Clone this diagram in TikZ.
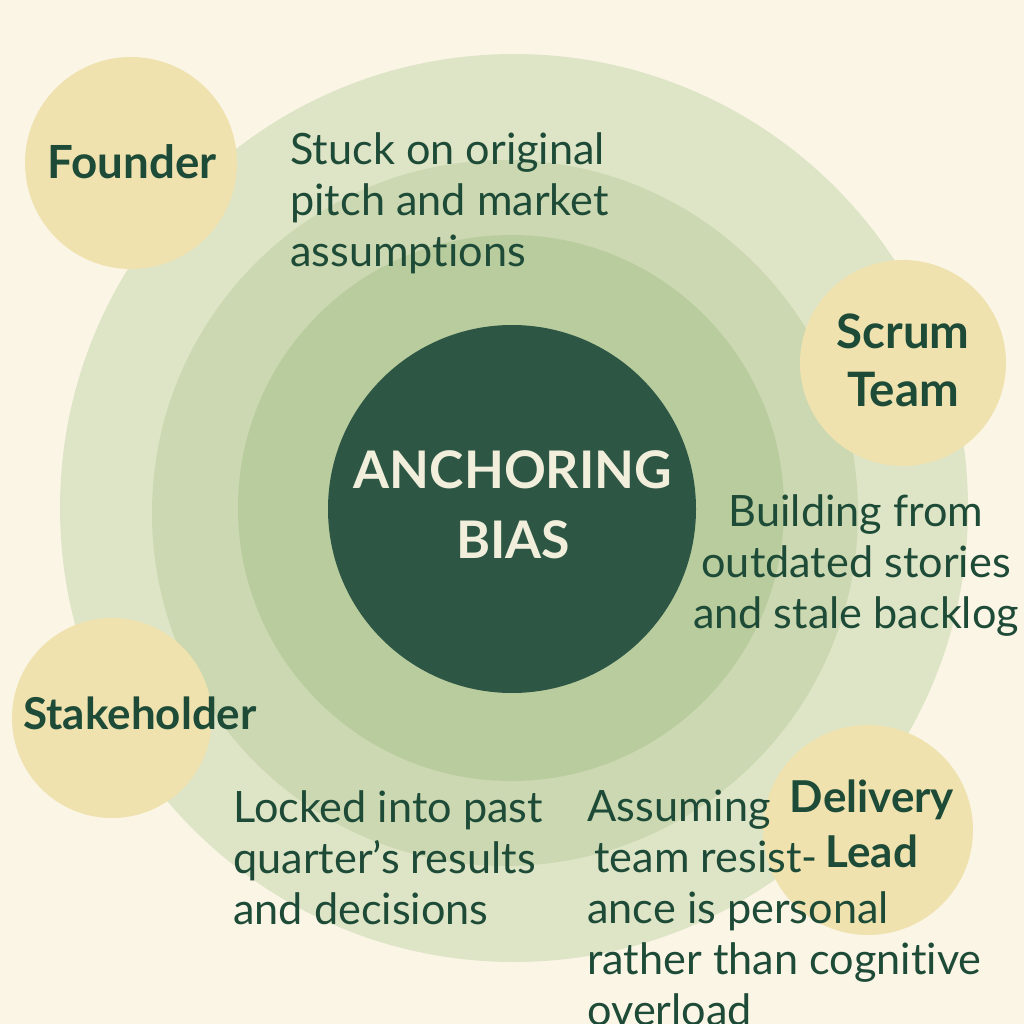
\documentclass[tikz,border=0pt]{standalone}
\usepackage{fontspec}
\setmainfont{Lato}[Ligatures=NoCommon]

\definecolor{bgcream}{HTML}{FBF5E6}
\definecolor{actorfill}{HTML}{EFE2AF}
\definecolor{ringa}{HTML}{DEE5C6}
\definecolor{ringb}{HTML}{CBD8B1}
\definecolor{ringc}{HTML}{B9CC9E}
\definecolor{corefill}{HTML}{2D5744}
\definecolor{inkgreen}{HTML}{1E4B37}
\definecolor{coretext}{HTML}{F2EEDC}

\tikzset{
  actor/.style={font=\fontsize{25}{31}\selectfont\bfseries, text=inkgreen, align=center, inner sep=0pt},
  note/.style={font=\fontsize{24.6}{29}\selectfont, text=inkgreen, inner sep=0pt},
  corelabel/.style={font=\fontsize{29.5}{40}\selectfont\bfseries, text=coretext, align=center, inner sep=0pt}
}

\begin{document}
\begin{tikzpicture}[x=0.02cm, y=-0.02cm]
  % Background
  \fill[bgcream] (0,0) rectangle (1024,1024);
  \useasboundingbox (0,0) rectangle (1024,1024);
  \clip (0,0) rectangle (1024,1024);

  % Rings
  \fill[ringa] (514,508) circle (454);
  \fill[ringb] (505,513) circle (353);
  \fill[ringc] (511,508) circle (273);
  \fill[corefill] (512,509) circle (184);

  % Actor discs
  \fill[actorfill] (131,163) circle (106);
  \fill[actorfill] (903,363) circle (103);
  \fill[actorfill] (112,718) circle (100);
  \fill[actorfill] (868,830) circle (105);

  % Centre
  \node[corelabel] (core) at (513,505) {ANCHORING\\BIAS};

  % Actors
  \node[actor, font=\fontsize{26}{31}\selectfont\bfseries] (founder) at (132,162) {Founder};
  \node[actor, font=\fontsize{27}{33}\selectfont\bfseries] (scrum) at (903,360) {Scrum\\Team};
  \node[actor] (stake) at (140,713) {Stakeholder};
  \node[actor] (lead) at (872,824) {Delivery\\Lead};

  % Notes
  \node[note, anchor=north west, align=left] (pitch) at (290,132)
    {Stuck on original\\pitch and market\\assumptions};
  \node[note, anchor=north, align=center] (backlog) at (856,494)
    {Building from\\outdated stories\\and stale backlog};
  \node[note, anchor=north west, align=left] (quarter) at (233,790)
    {Locked into past\\quarter’s results\\and decisions};
  \node[note, anchor=north west, align=left] (resist) at (587,790)
    {Assuming\\\,team resist-\\ance is personal\\rather than cognitive\\overload};
\end{tikzpicture}
\end{document}
